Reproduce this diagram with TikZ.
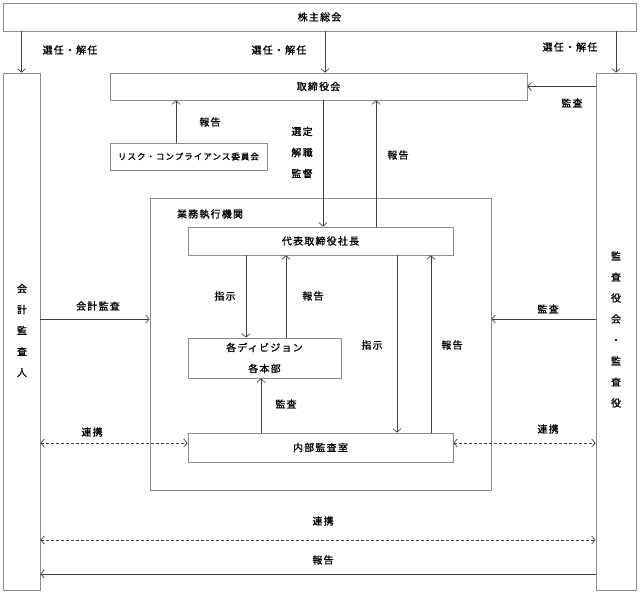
\documentclass[tikz,border=0pt]{standalone}
\usepackage{fontspec}
\setmainfont{Noto Sans CJK JP}[LetterSpace=12,FakeBold=1.2]
\usetikzlibrary{arrows.meta}
\begin{document}
\begin{tikzpicture}[x=1pt,y=-1pt,
  box/.style={draw=black!45,line width=0.7pt,inner sep=0pt,align=center,font=\fontsize{10}{21}\selectfont},
  lbl/.style={inner sep=0pt,align=center,font=\fontsize{10}{21}\selectfont},
  arr/.style={draw=black!75,line width=0.7pt,-{Straight Barb[length=3.5pt,width=8pt]}},
  darr/.style={draw=black!75,line width=0.7pt,dash pattern=on 3pt off 2pt,{Straight Barb[length=3.5pt,width=8pt]}-{Straight Barb[length=3.5pt,width=8pt]}}]
\useasboundingbox (0,0) rectangle (640,593);
% boxes
\node[box,minimum width=633pt,minimum height=28pt] (agm) at (319.5,17) {株主総会};
\node[box,minimum width=37pt,minimum height=517pt] (audL) at (21.5,331.5) {};
\node[box,minimum width=40pt,minimum height=517pt] (audR) at (616,331.5) {};
\node[lbl] (audLt) at (22,330.5) {会\\計\\監\\査\\人};
\node[lbl] (audRt) at (616,329.5) {監\\査\\役\\会\\・\\監\\査\\役};
\node[box,minimum width=417pt,minimum height=27pt] (board) at (318.5,86.5) {取締役会};
\node[box,minimum width=157pt,minimum height=27pt] (risk) at (188.5,156.5) {\fontsize{8.5}{10}\selectfont リスク・コンプライアンス委員会};
\node[box,minimum width=341pt,minimum height=292pt] (exec) at (320.5,344) {};
\node[lbl] (exect) at (210,214) {業務執行機関};
\node[box,minimum width=265pt,minimum height=28pt] (pres) at (320.5,241) {代表取締役社長};
\node[box,minimum width=153pt,minimum height=40pt] (div) at (264.5,358) {各ディビジョン\\各本部};
\node[box,minimum width=265pt,minimum height=29pt] (ia) at (320.5,447.5) {内部監査室};
% top arrows
\draw[arr] (agm.south -| audL) -- (audL.north);
\draw[arr] (agm.south -| 325,0) -- (board.north -| 325,0);
\draw[arr] (agm.south -| audR) -- (audR.north);
\node[lbl] at (70,50) {選任・解任};
\node[lbl] at (279,50) {選任・解任};
\node[lbl] at (570,47) {選任・解任};
\draw[arr] (audR.west |- board) -- (board.east);
\node[lbl] at (572,103) {監査};
\draw[arr] (risk.north -| 176,0) -- (board.south -| 176,0);
\node[lbl] at (210,122) {報告};
% board - president
\draw[arr] (board.south -| 323,0) -- (pres.north -| 323,0);
\node[lbl] at (302,152.5) {選定\\解職\\監督};
\draw[arr] (pres.north -| 376,0) -- (board.south -| 376,0);
\node[lbl] at (398,155) {報告};
% president - division
\draw[arr] (pres.south -| 246,0) -- (div.north -| 246,0);
\node[lbl] at (225,296) {指示};
\draw[arr] (div.north -| 286,0) -- (pres.south -| 286,0);
\node[lbl] at (313,296) {報告};
\draw[arr] (ia.north -| 261,0) -- (div.south -| 261,0);
\node[lbl] at (286,404) {監査};
% president - internal audit
\draw[arr] (pres.south -| 397,0) -- (ia.north -| 397,0);
\node[lbl] at (372,345) {指示};
\draw[arr] (ia.north -| 431,0) -- (pres.south -| 431,0);
\node[lbl] at (452,345) {報告};
% auditors to exec
\draw[arr] (audL.east |- 0,319) -- (exec.west |- 0,319);
\node[lbl] at (98,306) {会計監査};
\draw[arr] (audR.west |- 0,319) -- (exec.east |- 0,319);
\node[lbl] at (548,309) {監査};
% cooperation
\draw[darr] (audL.east |- 0,443) -- (ia.west |- 0,443);
\node[lbl] at (92,432) {連携};
\draw[darr] (ia.east |- 0,443) -- (audR.west |- 0,443);
\node[lbl] at (548,429) {連携};
\draw[darr] (audL.east |- 0,540) -- (audR.west |- 0,540);
\node[lbl] at (323,521) {連携};
\draw[arr] (audR.west |- 0,574) -- (audL.east |- 0,574);
\node[lbl] at (323,560) {報告};
\end{tikzpicture}
\end{document}
